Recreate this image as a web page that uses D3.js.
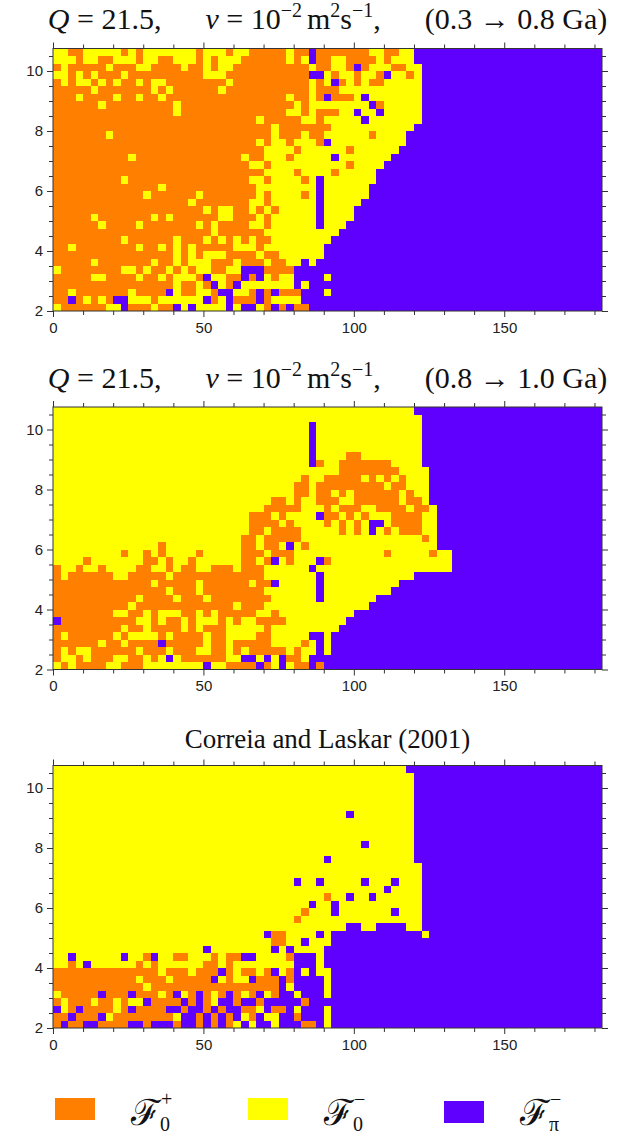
<!DOCTYPE html>
<html><head><meta charset="utf-8">
<script src="https://cdn.jsdelivr.net/npm/d3@7"></script>
<style>body{margin:0;background:#fff}svg{display:block}</style>
</head><body>
<svg id="chart" width="631" height="1135"></svg>
<script>
// ---------------- data ----------------
const categories = ["o", "y", "p"];               // F0+, F0-, Fpi-
const categoryColors = ["#ff8000", "#ffff00", "#5f00ff"];
const legendLabels = [{sub:"0", sup:"+"}, {sub:"0", sup:"\u2212"}, {sub:"\u03c0", sup:"\u2212"}];
const xTicks = [0, 50, 100, 150];
const yTicks = [2, 4, 6, 8, 10];
const xStep = 2.5, yStep = 0.25, nCols = 73, yTop = 10.75, yBottom = 2;
// rows top (10.75) to bottom (2); run-length: letter + count
const plot1Rows = [
"y2o2y5o1y1o1y7o1y3o1y2o5y1o2p1o7y2o2y2p25",
"y3o1y2o2y3o1y2o2y3o1y1o1y3o1o5y1o1y1p1o2y2o4y1o1y3p25",
"o1y1o5y1o3y2o4y1o2y1o1y2o2o8y1o2y2o1p1o1y3o2y2p24",
"y2o1y1o1y1o3y1o10y3o3o8p2y1o1y2o1y2o1p1y2o1y1p24",
"o1y1o1y2o1y1o1y1o2y1o1y2o8y1o2o8y1o1y1p1o1y1o1y1o2y5p24",
"o5y1o7y1o1y1o6y1o3o8y1o3y11p24",
"o3y1o4y1o2y1o2y1o11o5y1o2y1o1p1o3y1p1y7p24",
"o6y1o9y1o9o6y1o1y8p1o1y5p24",
"o16y1o9o5y2o1y1o3y2p1y2p1y5p24",
"o26o1y1o5y2o1y5p1y7p24",
"o26o3y1o7y11p25",
"o7y1o18o3y1o3y1o2y6o1y4p26",
"o26o1y1o1y2o1y3o1p1y10p26",
"o26o2y4o1y6o1y6p27",
"o10y1o14y1o2y3o1y5p1y7p28",
"o26y2o1y10o1y4p29",
"o26o2y4o1y4o1y5p30",
"o9y1o16y2o1y4o1y1p1y7p30",
"o14y1o11o1y8p1y6p31",
"o12y1o6y1o6o1y1o1y4o1y1p1y6p31",
"o18y1o7y2o1y6p1y5p32",
"o20y1o1y2o2y1o1y1o1y5p1y4p33",
"o5y1o7y1o1y1o6y2o2o1y1o1y6p1y4p33",
"o6y1o4y1o7y1o1y1o4y2o1y6p1y3p34",
"o21y1o4o2y10p35",
"o9y1o6y1o3y1o1y1o1y1o1y1o2y8p36",
"o2y1o8y1o2y1o1y1o1y1o5y2y1o1y8p37",
"o16y1o1y1o1y3o3o1y1o2y6p37",
"o5y1o7y1o2y1o1y3o3y1o1o2y1o2y2p1y1p38",
"y1o8y2o1y1o2y1o1y1o1y2o2y2p1p2o4p41",
"o5y2o4y1o2y1o1y3o1p1y2o2p1o1p1y1o1y2p4y1p36",
"o16y1o2y1o1p1y1o1p1y1y6p1y1p39",
"o2y1o7y1o4p1y1o2y2o1p2y2o1p1o1p1o3p3y1p36",
"o2p1o1y1o1y1o1p2y3o1y6p1o1y1p1o2o1p1o1y4p40",
"y1o6y2p1o3y1o2p1y1p1y4p1y1p1p1y1o1p1o1p1o2p39"
];
const plot2Rows = [
"y48p25",
"y49p24",
"y34p1y14p24",
"y34p1y14p24",
"y34p1y14p24",
"y34p1y14p24",
"y34p1y4o2y8p24",
"y34p1o1y2o7y4p24",
"y38o8y4p23",
"y33o1y2o5y1o1y1o1y1o1y3p23",
"y32o2y1o9y1o2y3p23",
"y32o2y1o2y1o1y1o6y1o1y2p23",
"y29o2y1o1y2o3y2o6y1o2y1p23",
"y28o5y3o1y1o3y2o4y1o2y1p22",
"y26o3y1o1y4p1o2y1o1y1o1y3o4y2p22",
"y26o4y1o1y4o1y1o1y1o1y1p2y1o4y2p22",
"y26o2y1o4y5o1y1o1y1p1y1o1y1o3y2p22",
"y25o2y1o5y16o1y1p22",
"y14o1y10o2y1o2y1p1y1o1y17p22",
"y9o1y2o1y1o1y4o1y5o3y1o3y12o1y5o1y2p20",
"y4o1y7o2y1o1y2o1y6o2y1o1p1y1o1y3p1o1y16p20",
"o1y2o1y2o1y4o2y2o1y1o2y2o3y1o1o2y6p1y18p20",
"o1y1o6y2o5y1o10o2y7p1y12p25",
"o13y1o5y1o6y1o2p1y5p1y10p27",
"o15y1o3y1o6o2y7p1y9p28",
"o11y1o4y1o3y1o5o3y6p1y7p30",
"o10y1o13y1o1o2y14p31",
"o8y2o2y1o1y3o2y1o1y1o4o1y2o1y10p33",
"p1o10y2o1y1o2y1o1y3o1y1o1y1y1o4y8p34",
"o9y1o2y1o4y1o1y1o3y3y2o1y9p35",
"o1y1o6y1o1y4o1y1o4y1o2y3y1o2y5p2y1p36",
"o6y1o2y1o4p1o5y1o2y1o2o3y4o1y1p1y1p36",
"o1y1o1y2o6y1o3y1o3y2o2y1o1y1o5y1o1y2p1y1p36",
"o1y2o1y1o3y2o2y1o1y1p1y1o6y2p1p1y1p1y1p1o2y1p39",
"y1o1y1o4y2o3y8p1y2o3o1p1o1y1p1y1o2p1o1p37"
];
const plot3Rows = [
"y47p26",
"y48p25",
"y48p25",
"y48p25",
"y48p25",
"y48p25",
"y39p1y8p25",
"y48p25",
"y48p25",
"y48p25",
"y41p1y6p25",
"y48p25",
"y36p1y11p25",
"y49p24",
"y49p24",
"y32p1y2p1y5p1y3p1y3p24",
"y44p1y4p24",
"y36o1y2p1y2p1y6p24",
"y34p1y2p1y11p24",
"y33o1y3p1y7p1y3p24",
"y32o1y16p24",
"y39p2y2p4y2p24",
"y28p1o2y4p1y1p12y1p23",
"y29o2y2p1y3p36",
"y20p1y8p1y1p1y4p37",
"y2p1y6p1y2o1p1y2o2y3o1y1o2p1p1y4o1p3y1p37",
"y2o1y1p1y6o1y1o1y6o2y1o1y2y6p3y1p37",
"o14y1o3y1o3p1o1y1o1o1y1o1p1y1o1p1y1p1y2p36",
"o11y1o3y1o5p1y1o1y2p1o3p1o1p4y1p36",
"o12y1o13o4p1y1p4y1p36",
"y1o5p1o3p1o3y1o1p1y1o1p1o1y1o1p1o1y1o1p1y1o1p2y1p3y1p36",
"o1y1o3y1o2y1o1y2p1o4p1o1p1o1y1p2o1p1p1o1p5o1p39",
"p1y1o1p1o4y1o1p1o4p2o1p2o1p1o1p2o1o1y1p1o2p1y1p3y1p36",
"o2p1o3p1y1o8y1p2o1p1o1p1o1p1y1o1p1y2p2o1p3y1p36",
"o1p1o2p2o4p2o1p3o1p2o1p1o1p1o1y1p1y1p2y1p3o2p1y1p36"
];
const panels = [
  {rows: plot1Rows, title: "q", range: "(0.3 \u2192 0.8 Ga)"},
  {rows: plot2Rows, title: "q", range: "(0.8 \u2192 1.0 Ga)"},
  {rows: plot3Rows, title: "Correia and Laskar (2001)"}
];

// ---------------- layout ----------------
const left = 53, right = 602, plotH = 262.5;
const panelTops = [48.5, 407, 765.5];
const titleBase = [29, 388, 748];
const svg = d3.select("#chart");
const color = d3.scaleOrdinal().domain(categories).range(categoryColors);
const x = d3.scaleLinear().domain([0, nCols * xStep]).range([left, right]);

function decode(s) {
  const out = [];
  s.replace(/([oyp])(\d+)/g, (m, c, n) => { for (let i = 0; i < +n; i++) out.push(c); return m; });
  while (out.length < nCols) out.push(out[out.length - 1]);
  return out.slice(0, nCols);
}

panels.forEach((pn, k) => {
  const top = panelTops[k], bottom = top + plotH;
  const y = d3.scaleLinear().domain([yBottom, yTop]).range([bottom, top]);
  const g = svg.append("g");
  const runs = [];
  pn.rows.forEach((row, r) => {
    const cells = decode(row);
    const yHi = yTop - r * yStep, yLo = yHi - yStep;
    let start = 0;
    for (let c = 1; c <= nCols; c++) {
      if (c === nCols || cells[c] !== cells[start]) {
        runs.push({cat: cells[start], x0: start * xStep, x1: c * xStep, yLo, yHi});
        start = c;
      }
    }
  });
  g.append("g").attr("shape-rendering", "crispEdges").selectAll("rect").data(runs).join("rect")
    .attr("x", d => x(d.x0)).attr("width", d => x(d.x1) - x(d.x0))
    .attr("y", d => y(d.yHi)).attr("height", d => y(d.yLo) - y(d.yHi))
    .attr("fill", d => color(d.cat));

  const minorX = d3.range(0, 181, 10).filter(v => !xTicks.includes(v));
  const minorY = d3.range(2, 10.76, 0.5).filter(v => !yTicks.includes(v));
  const style = sel => {
    sel.select(".domain").remove();
    sel.selectAll("line").attr("stroke", "#333");
    sel.selectAll("text").attr("font-family", "Liberation Sans, Arial, sans-serif").attr("font-size", 15).attr("fill", "#222");
  };
  g.append("g").attr("transform", `translate(0,${bottom})`).call(d3.axisBottom(x).tickValues(xTicks).tickSize(6).tickPadding(5).tickFormat(d3.format("d"))).call(style);
  g.append("g").attr("transform", `translate(0,${bottom})`).call(d3.axisBottom(x).tickValues(minorX).tickSize(4).tickFormat("")).call(style);
  g.append("g").attr("transform", `translate(0,${top})`).call(d3.axisTop(x).tickValues(xTicks).tickSize(6).tickFormat("")).call(style);
  g.append("g").attr("transform", `translate(0,${top})`).call(d3.axisTop(x).tickValues(minorX).tickSize(4).tickFormat("")).call(style);
  g.append("g").attr("transform", `translate(${left},0)`).call(d3.axisLeft(y).tickValues(yTicks).tickSize(6).tickPadding(4).tickFormat(d3.format("d"))).call(style);
  g.append("g").attr("transform", `translate(${left},0)`).call(d3.axisLeft(y).tickValues(minorY).tickSize(4).tickFormat("")).call(style);
  g.append("g").attr("transform", `translate(${right},0)`).call(d3.axisRight(y).tickValues(yTicks).tickSize(6).tickFormat("")).call(style);
  g.append("g").attr("transform", `translate(${right},0)`).call(d3.axisRight(y).tickValues(minorY).tickSize(4).tickFormat("")).call(style);
  g.append("rect").attr("x", left).attr("y", top).attr("width", right - left).attr("height", plotH)
    .attr("fill", "none").attr("stroke", "#333").attr("stroke-width", 1);

  const cx = (left + right) / 2;
  const t = svg.append("text").attr("x", cx).attr("y", titleBase[k]).attr("text-anchor", "middle")
    .attr("font-family", "Liberation Serif, Times New Roman, serif").attr("font-size", 30).attr("fill", "#111");
  if (pn.title === "q") {
    const seg = (txt, o = {}) => {
      const s = t.append("tspan").text(txt);
      if (o.it) s.attr("font-style", "italic");
      if (o.dx) s.attr("dx", o.dx);
      if (o.dy) s.attr("dy", o.dy);
      if (o.fs) s.attr("font-size", o.fs);
      return s;
    };
    seg("Q", {it: true}); seg(" = 21.5,");
    seg("\u03bd", {it: true, dx: 44}); seg(" = 10");
    seg("\u22122", {dy: -12, fs: 20}); seg("m", {dy: 12, dx: 5});
    seg("2", {dy: -12, fs: 20}); seg("s", {dy: 12});
    seg("\u22121", {dy: -12, fs: 20}); seg(",", {dy: 12});
    seg(pn.range, {dx: 44});
  } else {
    t.attr("font-size", 27).text(pn.title);
  }
});

// legend
const legendX = [55, 248, 444];
const lg = svg.append("g");
categories.forEach((c, i) => {
  lg.append("rect").attr("x", legendX[i]).attr("y", i === 2 ? 1101 : 1098).attr("width", 40).attr("height", 22).attr("fill", color(c));
  const tx = legendX[i] + 76;
  const lt = lg.append("text").attr("x", tx).attr("y", 1125).attr("font-family", "DejaVu Serif, serif")
    .attr("font-size", 36).attr("fill", "#111");
  lt.append("tspan").text("\u2131");
  lt.append("tspan").attr("x", tx + 29).attr("y", 1131).attr("font-family", "Liberation Serif, serif").attr("font-size", 20).text(legendLabels[i].sub);
  lt.append("tspan").attr("x", tx + 30).attr("y", 1106).attr("font-family", "Liberation Serif, serif").attr("font-size", 20).text(legendLabels[i].sup);
});
</script>
</body></html>
